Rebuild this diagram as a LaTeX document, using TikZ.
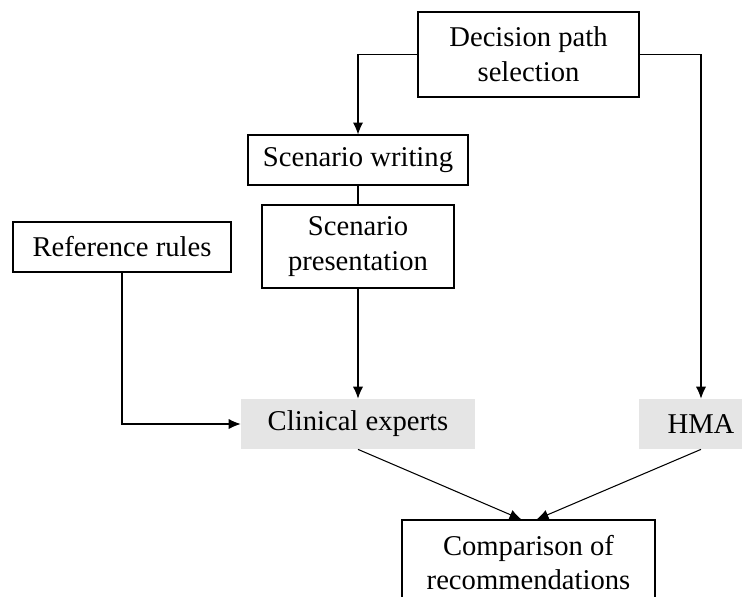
\documentclass[tikz,border=0pt]{standalone}
\usepackage{fontspec}
\setmainfont{Liberation Serif}
\usetikzlibrary{arrows.meta}
\definecolor{shade}{HTML}{E5E5E5}
\begin{document}
\begin{tikzpicture}[
		x=0.02cm,
		y=-0.02cm,
		font=\fontsize{16.3}{19.8}\selectfont,
		box/.style={draw, line width=0.6pt, align=center, inner sep=0pt},
		actor/.style={fill=shade, align=center, inner sep=0pt},
		flow/.style={line width=0.6pt, -{Latex[length=6.8pt,width=5.8pt]}},
		link/.style={line width=0.6pt}
	]

	\useasboundingbox (0,0) rectangle (742,596);

	% Boxes
	\node[box, minimum width=221*0.02cm, minimum height=85*0.02cm] (dps) at (528.5,54.5) {Decision path\\selection};
	\node[box, minimum width=220*0.02cm, minimum height=50*0.02cm] (sw) at (358,160) {Scenario writing};
	\node[box, minimum width=192*0.02cm, minimum height=83*0.02cm] (sp) at (358,246.5) {Scenario\\presentation};
	\node[box, minimum width=218*0.02cm, minimum height=50*0.02cm] (rr) at (122,247) {Reference rules};
	\node[box, minimum width=253*0.02cm, minimum height=85*0.02cm] (cmp) at (528.5,562.5) {Comparison of\\recommendations};

	% Shaded actors
	\node[actor, minimum width=234*0.02cm, minimum height=50*0.02cm] (ce) at (358,424) {Clinical experts};
	\node[actor, minimum width=124*0.02cm, minimum height=50*0.02cm] (hma) at (701,424) {HMA};

	% Connectors
	\draw[flow] (dps.west) -| (sw.north);
	\draw[flow] (dps.east) -| (hma.north);
	\draw[link] (sw.south) -- (sp.north);
	\draw[flow] (sp.south) -- (ce.north);
	\draw[flow] (rr.south) |- (ce.west);
	\draw[flow] (ce.south) -- ([xshift=-7*0.02cm]cmp.north);
	\draw[flow] (hma.south) -- ([xshift=8*0.02cm]cmp.north);

\end{tikzpicture}
\end{document}
